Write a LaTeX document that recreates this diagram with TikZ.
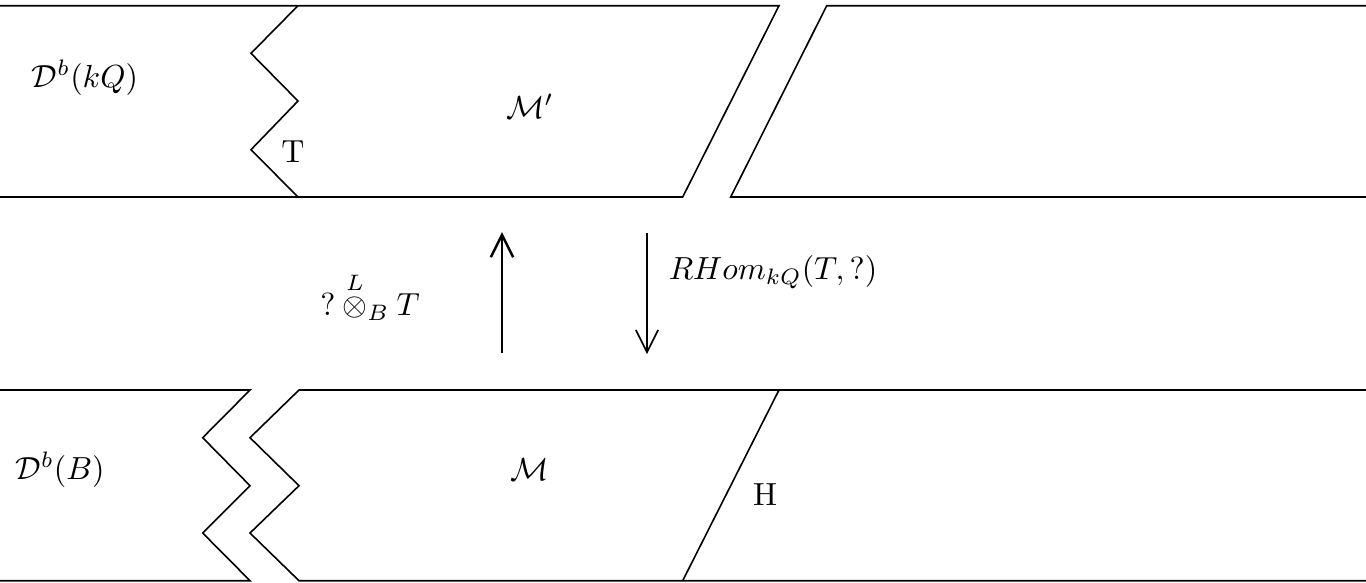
\documentclass[tikz,border=0pt]{standalone}
\usepackage{amsmath}
\usetikzlibrary{arrows.meta}
\begin{document}
\begin{tikzpicture}[x=0.011cm,y=-0.011cm,
  band/.style={line width=0.5pt,line join=miter},
  lbl/.style={inner sep=0pt,anchor=center},
  functor/.style={-{Straight Barb[length=7pt,width=7pt]},line width=0.5pt}]
\useasboundingbox (0,0) rectangle (1366,582);
% top band
\draw[band] (0,5.7) -- (779,5.7) -- (682.7,197) -- (0,197);
\draw[band] (298,5.7) -- (251,53.3) -- (298,101) -- (251,149.7) -- (298,197);
\draw[band] (1366,5.7) -- (826.7,5.7) -- (730.7,197) -- (1366,197);
% bottom band
\draw[band] (0,390) -- (250,390) -- (202.7,437.7) -- (250,485.7) -- (202.7,533) -- (250,580.7) -- (0,580.7);
\draw[band] (1366,390) -- (299,390) -- (250,437.7) -- (299,485.7) -- (250,533) -- (299,580.7) -- (1366,580.7);
\draw[band] (779,390) -- (682.7,580.7);
% labels
\node[lbl] (dkq) at (85,78) {$\mathcal{D}^b(kQ)$};
\node[lbl] (mp) at (530,106) {$\mathcal{M}'$};
\node[lbl] (t) at (293,152) {T};
\node[lbl] (db) at (60,470) {$\mathcal{D}^b(B)$};
\node[lbl] (m) at (530,470) {$\mathcal{M}$};
\node[lbl] (h) at (765,495) {H};
\node[lbl] (tens) at (370,296) {$?\mathbin{\overset{L}{\otimes}_B} T$};
\node[lbl] (rhom) at (773,272) {$RHom_{kQ}(T,?)$};
% arrows
\coordinate (ua) at (502,353);
\coordinate (ub) at (502,232);
\coordinate (da) at (647,233);
\coordinate (db2) at (647,354);
\draw[functor,line width=0.8pt] (ua) -- (ub);
\draw[functor] (da) -- (db2);
\end{tikzpicture}
\end{document}
